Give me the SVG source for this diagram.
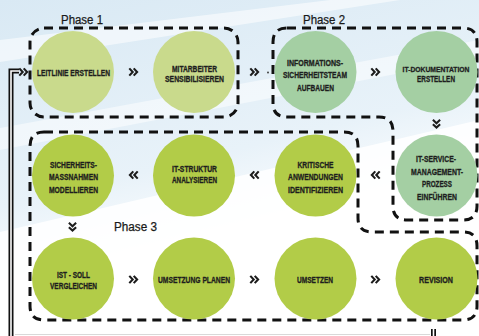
<svg xmlns="http://www.w3.org/2000/svg" width="479" height="336" viewBox="0 0 479 336">
<defs>
<linearGradient id="bg" x1="0" y1="0" x2="0.35" y2="1">
<stop offset="0" stop-color="#d9e9f4"/>
<stop offset="0.55" stop-color="#e8f2f9"/>
<stop offset="0.8" stop-color="#ffffff"/>
</linearGradient>
<path id="chev" d="M-4.2,-3.6 L-0.8,0 L-4.2,3.6 M0.2,-3.6 L3.6,0 L0.2,3.6" fill="none" stroke="#1c1c1c" stroke-width="2.1"/>
</defs>
<style>
.box{fill:none;stroke:#111;stroke-width:3;stroke-dasharray:9 6}
.p1{fill:#c9da8c}
.p2{fill:#a4cfa3}
.p3{fill:#b2cc48}
.t{font-family:"Liberation Sans","DejaVu Sans",sans-serif;font-weight:bold;font-size:8.4px;fill:#1e1e1e;stroke:#1e1e1e;stroke-width:0.3;text-anchor:middle}
.ph{font-family:"Liberation Sans","DejaVu Sans",sans-serif;font-size:12.5px;fill:#1a1a1a;stroke:#1a1a1a;stroke-width:0.25}
.dl{fill:none;stroke:#111;stroke-width:5}
.dw{fill:none;stroke:#fff;stroke-width:1.6}
</style>
<rect width="479" height="336" fill="#ffffff"/>
<rect width="479" height="336" fill="url(#bg)"/>
<polygon points="0,40 330,0 400,0 0,62" fill="#ffffff" opacity="0.55"/>
<polygon points="0,128 479,40 479,58 0,150" fill="#ffffff" opacity="0.5"/>
<polygon points="0,232 479,120 479,336 0,336" fill="#ffffff" opacity="0.85"/>
<line x1="15" y1="334.5" x2="430" y2="334.5" stroke="#d9d9d9" stroke-width="1"/>

<g id="phase1">
<rect class="box" x="30" y="28" width="208" height="89" rx="14"/>
<text class="ph" x="61" y="24" textLength="42" lengthAdjust="spacingAndGlyphs">Phase 1</text>
</g>
<g id="phase2">
<path class="box" d="M287,28 H463 Q477,28 477,42 V206 Q477,220 463,220 H407 Q393,220 393,206 V131 Q393,117 379,117 H287 Q273,117 273,103 V42 Q273,28 287,28 Z"/>
<text class="ph" x="303" y="24" textLength="42" lengthAdjust="spacingAndGlyphs">Phase 2</text>
</g>
<g id="phase3">
<path class="box" d="M44,132 H344 Q358,132 358,146 V218 Q358,232 372,232 H463 Q477,232 477,246 V306 Q477,320 463,320 H44 Q30,320 30,306 V146 Q30,132 44,132 Z"/>
<text class="ph" x="114" y="230.5" textLength="43" lengthAdjust="spacingAndGlyphs">Phase 3</text>
</g>

<g id="connectors">
<path class="dl" d="M11,336 V71 H19"/>
<path class="dw" d="M11,336 V71 H19"/>
<path class="dl" d="M433.5,329 V336" stroke-width="4"/>
<path class="dw" d="M433.5,329 V336" stroke-width="1.2"/>
<use href="#chev" transform="translate(23.5,72)"/>
<use href="#chev" transform="translate(133.5,72)"/>
<use href="#chev" transform="translate(254.5,72)"/>
<circle cx="268" cy="72.5" r="0.9" fill="#333"/>
<use href="#chev" transform="translate(375.5,72)"/>
<use href="#chev" transform="translate(436.5,124) rotate(90)"/>
<use href="#chev" transform="translate(375.5,175) rotate(180)"/>
<use href="#chev" transform="translate(254.5,175) rotate(180)"/>
<use href="#chev" transform="translate(133.5,175) rotate(180)"/>
<use href="#chev" transform="translate(72.5,227) rotate(90)"/>
<use href="#chev" transform="translate(133.5,279.5)"/>
<use href="#chev" transform="translate(254.5,279.5)"/>
<use href="#chev" transform="translate(375.5,279.5)"/>
</g>

<g id="n-leitlinie">
<circle class="p1" cx="73" cy="72" r="41"/>
<text class="t" x="73.5" y="75.7" textLength="73" lengthAdjust="spacingAndGlyphs">LEITLINIE ERSTELLEN</text>
</g>
<g id="n-mitarbeiter">
<circle class="p1" cx="194" cy="72" r="41"/>
<text class="t" x="194.5" y="72" textLength="45" lengthAdjust="spacingAndGlyphs">MITARBEITER</text>
<text class="t" x="194.5" y="82.3" textLength="59" lengthAdjust="spacingAndGlyphs">SENSIBILISIEREN</text>
</g>
<g id="n-informations">
<circle class="p2" cx="315.5" cy="72" r="41"/>
<text class="t" x="315" y="65.7" textLength="56" lengthAdjust="spacingAndGlyphs">INFORMATIONS-</text>
<text class="t" x="315" y="78" textLength="64" lengthAdjust="spacingAndGlyphs">SICHERHEITSTEAM</text>
<text class="t" x="315.5" y="90.7" textLength="37" lengthAdjust="spacingAndGlyphs">AUFBAUEN</text>
</g>
<g id="n-itdoku">
<circle class="p2" cx="436.5" cy="72" r="41"/>
<text class="t" x="436" y="72" style="font-size:7.8px" textLength="67" lengthAdjust="spacingAndGlyphs">IT-DOKUMENTATION</text>
<text class="t" x="436" y="82.3" textLength="38" lengthAdjust="spacingAndGlyphs">ERSTELLEN</text>
</g>
<g id="n-itservice">
<circle class="p2" cx="436.5" cy="175.5" r="41"/>
<text class="t" x="436" y="162.3" textLength="40" lengthAdjust="spacingAndGlyphs">IT-SERVICE-</text>
<text class="t" x="437" y="174.7" textLength="52" lengthAdjust="spacingAndGlyphs">MANAGEMENT-</text>
<text class="t" x="437" y="187" textLength="30" lengthAdjust="spacingAndGlyphs">PROZESS</text>
<text class="t" x="437" y="199.7" textLength="40" lengthAdjust="spacingAndGlyphs">EINFÜHREN</text>
</g>
<g id="n-kritische">
<circle class="p3" cx="315.5" cy="175.5" r="41"/>
<text class="t" x="315.5" y="168" textLength="36" lengthAdjust="spacingAndGlyphs">KRITISCHE</text>
<text class="t" x="315.5" y="180.3" textLength="55" lengthAdjust="spacingAndGlyphs">ANWENDUNGEN</text>
<text class="t" x="315.5" y="193" textLength="55" lengthAdjust="spacingAndGlyphs">IDENTIFIZIEREN</text>
</g>
<g id="n-itstruktur">
<circle class="p3" cx="194" cy="175.5" r="41"/>
<text class="t" x="194.5" y="172.3" textLength="45" lengthAdjust="spacingAndGlyphs">IT-STRUKTUR</text>
<text class="t" x="194.5" y="183" textLength="45" lengthAdjust="spacingAndGlyphs">ANALYSIEREN</text>
</g>
<g id="n-sicherheits">
<circle class="p3" cx="73" cy="175.5" r="41"/>
<text class="t" x="73.5" y="168" textLength="47" lengthAdjust="spacingAndGlyphs">SICHERHEITS-</text>
<text class="t" x="73.5" y="180.3" textLength="49" lengthAdjust="spacingAndGlyphs">MASSNAHMEN</text>
<text class="t" x="73.5" y="193" textLength="49" lengthAdjust="spacingAndGlyphs">MODELLIEREN</text>
</g>
<g id="n-istsoll">
<circle class="p3" cx="73" cy="278.5" r="41"/>
<text class="t" x="73.5" y="278" textLength="33" lengthAdjust="spacingAndGlyphs">IST - SOLL</text>
<text class="t" x="73.5" y="288.7" textLength="47" lengthAdjust="spacingAndGlyphs">VERGLEICHEN</text>
</g>
<g id="n-umsetzungplanen">
<circle class="p3" cx="194" cy="278.5" r="41"/>
<text class="t" x="194" y="283" textLength="72" lengthAdjust="spacingAndGlyphs">UMSETZUNG PLANEN</text>
</g>
<g id="n-umsetzen">
<circle class="p3" cx="315.5" cy="278.5" r="41"/>
<text class="t" x="315" y="283" textLength="36" lengthAdjust="spacingAndGlyphs">UMSETZEN</text>
</g>
<g id="n-revision">
<circle class="p3" cx="436.5" cy="278.5" r="41"/>
<text class="t" x="436" y="283" textLength="34" lengthAdjust="spacingAndGlyphs">REVISION</text>
</g>
</svg>
